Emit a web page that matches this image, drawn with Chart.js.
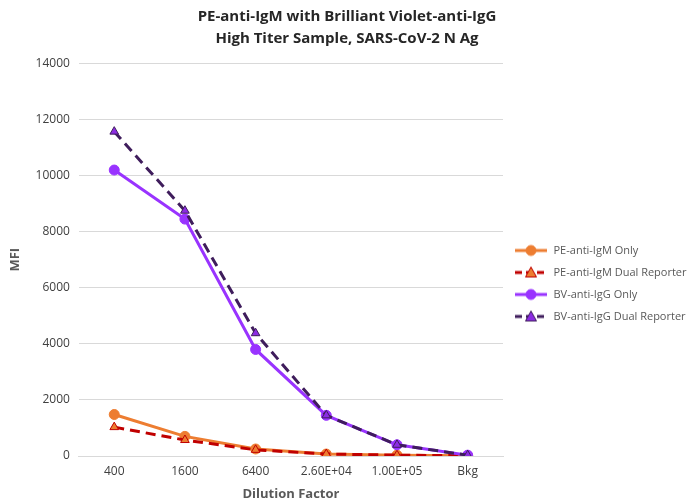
<!DOCTYPE html>
<html>
<head>
<meta charset="utf-8">
<script src="https://cdn.jsdelivr.net/npm/chart.js@4.4.1/dist/chart.umd.min.js"></script>
<style>
  html, body { margin: 0; padding: 0; background: #fff; }
  #wrap { width: 689px; height: 501px; }
</style>
</head>
<body>
<div id="wrap"><canvas id="chart" width="689" height="501"></canvas></div>
<script>
const dilutions = ['400', '1600', '6400', '2.60E+04', '1.00E+05', 'Bkg'];
const peOnly = [1480, 700, 250, 70, 30, 10];
const peDual = [1030, 570, 220, 70, 30, 10];
const bvOnly = [10200, 8450, 3800, 1450, 400, 30];
const bvDual = [11570, 8750, 4380, 1450, 400, 30];
const yTicks = [0, 2000, 4000, 6000, 8000, 10000, 12000, 14000];

const FONT = "'Open Sans', 'Liberation Sans', sans-serif";

// legend swatch: line segment with marker in the middle
function swatch(lineColor, dash, shape, fill, stroke) {
    const c = document.createElement('canvas');
    c.width = 34; c.height = 14;
    const g = c.getContext('2d');
    g.strokeStyle = lineColor;
    g.lineWidth = 3;
    g.setLineDash(dash);
    g.beginPath(); g.moveTo(1, 7); g.lineTo(33, 7); g.stroke();
    g.setLineDash([]);
    g.fillStyle = fill; g.strokeStyle = stroke; g.lineWidth = 1;
    g.beginPath();
    if (shape === 'circle') {
        g.arc(17, 7, 5, 0, Math.PI * 2);
    } else {
        g.moveTo(17, 1.5); g.lineTo(22.5, 11.5); g.lineTo(11.5, 11.5); g.closePath();
    }
    g.fill(); g.stroke();
    return c;
}

const series = [
    { label: 'PE-anti-IgM Only', data: peOnly, color: '#ED7D31', dash: [], shape: 'circle', fill: '#ED7D31', stroke: '#ED7D31' },
    { label: 'PE-anti-IgM Dual Reporter', data: peDual, color: '#C00000', dash: [10, 6], shape: 'triangle', fill: '#ED7D31', stroke: '#C00000' },
    { label: 'BV-anti-IgG Only', data: bvOnly, color: '#9933FF', dash: [], shape: 'circle', fill: '#9933FF', stroke: '#9933FF' },
    { label: 'BV-anti-IgG Dual Reporter', data: bvDual, color: '#3F1D5C', dash: [10, 6], shape: 'triangle', fill: '#8B2BE2', stroke: '#3F1D5C' }
];

const swatches = series.map(s => swatch(s.color, s.dash.length ? [7, 4] : [], s.shape, s.fill, s.stroke));

new Chart(document.getElementById('chart').getContext('2d'), {
    type: 'line',
    data: {
        labels: dilutions,
        datasets: series.map(s => ({
            label: s.label,
            data: s.data,
            borderColor: s.color,
            backgroundColor: s.fill,
            borderWidth: 3,
            borderDash: s.dash,
            pointStyle: s.shape,
            pointRadius: 5,
            pointBackgroundColor: s.fill,
            pointBorderColor: s.stroke,
            pointBorderWidth: 1,
            tension: 0
        })).reverse()
    },
    options: {
        responsive: false,
        animation: false,
        layout: { padding: { top: 6, left: 5, right: 0, bottom: 0 } },
        plugins: {
            title: {
                display: true,
                text: ['PE-anti-IgM with Brilliant Violet-anti-IgG', 'High Titer Sample, SARS-CoV-2 N Ag'],
                color: '#262626',
                font: { family: FONT, size: 15, weight: 'bold', lineHeight: 1.45 },
                padding: { top: 0, bottom: 14 }
            },
            legend: {
                position: 'right',
                maxWidth: 186,
                // empty title only pushes the entries down a little
                title: { display: true, text: '', font: { size: 10 }, padding: { top: 0, bottom: 48 } },
                labels: {
                    usePointStyle: true,
                    pointStyleWidth: 34,
                    color: '#595959',
                    font: { family: FONT, size: 11 },
                    padding: 11,
                    generateLabels: chart => series.map((s, i) => ({
                        text: s.label,
                        pointStyle: swatches[i],
                        fontColor: '#595959',
                        datasetIndex: 3 - i,
                        hidden: false,
                        lineWidth: 0
                    }))
                }
            },
            tooltip: { enabled: false }
        },
        scales: {
            x: {
                offset: true,
                grid: { display: false, drawTicks: false },
                border: { color: '#d9d9d9' },
                ticks: { color: '#404040', font: { family: FONT, size: 12, lineHeight: 1 }, padding: 10 },
                title: { display: true, text: 'Dilution Factor', color: '#595959', font: { family: FONT, size: 13, weight: 'bold', lineHeight: 1 }, padding: { top: 0, bottom: 0 } }
            },
            y: {
                min: 0,
                max: 14000,
                afterBuildTicks: axis => { axis.ticks = yTicks.map(v => ({ value: v })); },
                grid: { color: '#d9d9d9', drawTicks: false, lineWidth: 1 },
                border: { display: false },
                ticks: { color: '#404040', font: { family: FONT, size: 12 }, padding: 9, callback: v => String(v) },
                title: { display: true, text: 'MFI', color: '#595959', font: { family: FONT, size: 13, weight: 'bold' }, padding: { top: 2, bottom: 4 } }
            }
        }
    }
});
</script>
</body>
</html>
